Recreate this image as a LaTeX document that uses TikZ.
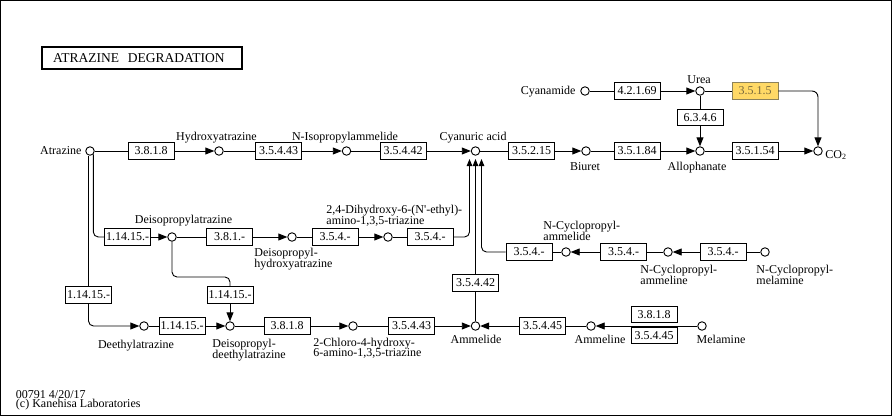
\documentclass[tikz,border=0pt]{standalone}
\usepackage{fontspec}
\setmainfont{Liberation Serif}
\usetikzlibrary{arrows.meta}
\definecolor{hlfill}{RGB}{255,217,102}
\definecolor{hlline}{RGB}{140,130,90}
\definecolor{hltext}{RGB}{120,105,60}
\newcommand{\keggsize}{\fontsize{12}{10.5}\selectfont}

\begin{document}
\begin{tikzpicture}[x=1pt, y=-1pt, line width=0.9pt,
  cpd/.style={circle, draw, fill=white, inner sep=0pt, minimum size=8.5pt},
  enz/.style={draw, fill=white, inner sep=0pt, minimum width=46pt, minimum height=16.5pt, font=\keggsize},
  hl/.style={enz, fill=hlfill, draw=hlline, text=hltext},
  lbl/.style={inner sep=0pt, font=\keggsize, align=left},
  rx/.style={-{Triangle[length=9pt,width=7pt]}},
  rxs/.style={-{Triangle[length=7pt,width=5.5pt]}}]

\useasboundingbox (0,0) rectangle (892,416);
\draw (0.5,0.5) rectangle (891.5,415.5);

\node [draw, line width=2pt, anchor=west, minimum height=22pt, inner xsep=11pt, inner ysep=0pt, text width=178pt, font=\fontsize{13.5}{14}\selectfont] (title) at (41,58) {ATRAZINE\ \ DEGRADATION};

% compounds
\node [cpd] (atr)   at (90,151) {};
\node [cpd] (hyd)   at (219,151) {};
\node [cpd] (nip)   at (346.5,151) {};
\node [cpd] (cya)   at (475.5,151) {};
\node [cpd] (biu)   at (586,151) {};
\node [cpd] (allo)  at (700,151) {};
\node [cpd] (co2)   at (818,151) {};
\node [cpd] (cyn)   at (585,91) {};
\node [cpd] (urea)  at (700,91) {};
\node [cpd] (dia)   at (172,237) {};
\node [cpd] (dha)   at (292,237) {};
\node [cpd] (dhe)   at (388,237) {};
\node [cpd] (ncamd) at (566,252) {};
\node [cpd] (ncaml) at (668,252) {};
\node [cpd] (ncmel) at (765,252) {};
\node [cpd] (deth)  at (144,326) {};
\node [cpd] (dde)   at (230,326) {};
\node [cpd] (chl)   at (353,326) {};
\node [cpd] (amd)   at (475.5,326) {};
\node [cpd] (aml)   at (591,326) {};
\node [cpd] (mel)   at (702,326) {};

% enzymes
\node [enz] (e3818a)  at (151,151) {3.8.1.8};
\node [enz] (e35443a) at (278.5,151) {3.5.4.43};
\node [enz] (e35442a) at (403,151) {3.5.4.42};
\node [enz] (e35215)  at (531.5,151) {3.5.2.15};
\node [enz] (e35184)  at (637,151) {3.5.1.84};
\node [enz] (e35154)  at (755,151) {3.5.1.54};
\node [enz] (e42169)  at (637,91) {4.2.1.69};
\node [hl]  (e3515)   at (755,91) {3.5.1.5};
\node [enz] (e6346)   at (700,117.5) {6.3.4.6};
\node [enz] (e11415a) at (127.5,237) {1.14.15.-};
\node [enz] (e381)    at (229.5,237) {3.8.1.-};
\node [enz] (e354a)   at (335,237) {3.5.4.-};
\node [enz] (e354b)   at (430,237) {3.5.4.-};
\node [enz] (e354c)   at (529,252) {3.5.4.-};
\node [enz] (e354d)   at (623.5,252) {3.5.4.-};
\node [enz] (e354e)   at (723,252) {3.5.4.-};
\node [enz] (e35442b) at (475.5,283) {3.5.4.42};
\node [enz] (e11415b) at (88.5,295) {1.14.15.-};
\node [enz] (e11415d) at (230,295) {1.14.15.-};
\node [enz] (e11415c) at (182,326) {1.14.15.-};
\node [enz] (e3818b)  at (287,326) {3.8.1.8};
\node [enz] (e35443b) at (411.5,326) {3.5.4.43};
\node [enz] (e35445a) at (542.5,326) {3.5.4.45};
\node [enz] (e3818c)  at (654,314.5) {3.8.1.8};
\node [enz] (e35445b) at (654,335.5) {3.5.4.45};

% labels
\node [lbl, anchor=base east] (latr)  at (82,154) {Atrazine};
\node [lbl, anchor=base] (lhyd)  at (216.5,140) {Hydroxyatrazine};
\node [lbl, anchor=base] (lnip)  at (345,140) {N-Isopropylammelide};
\node [lbl, anchor=base] (lcya)  at (473,140) {Cyanuric acid};
\node [lbl, anchor=base] (lbiu)  at (585,170) {Biuret};
\node [lbl, anchor=base] (lallo) at (697,170) {Allophanate};
\node [lbl, anchor=base west] (lco2) at (825,158) {CO\textsubscript{2}};
\node [lbl, anchor=base] (lurea) at (699,83) {Urea};
\node [lbl, anchor=base east] (lcyn) at (576,94) {Cyanamide};
\node [lbl, anchor=base] (ldia)  at (183.5,223) {Deisopropylatrazine};
\node [lbl, anchor=base west] (ldha) at (254,267) {Deisopropyl-\\[-1.5pt]hydroxyatrazine};
\node [lbl, anchor=base west] (ldhe) at (326,224) {2,4-Dihydroxy-6-(N\textquotesingle-ethyl)-\\[-1.5pt]amino-1,3,5-triazine};
\node [lbl, anchor=base west] (lncamd) at (543,240) {N-Cyclopropyl-\\[-1.5pt]ammelide};
\node [lbl, anchor=base west] (lncaml) at (640,284) {N-Cyclopropyl-\\[-1.5pt]ammeline};
\node [lbl, anchor=base west] (lncmel) at (756,284) {N-Cyclopropyl-\\[-1.5pt]melamine};
\node [lbl, anchor=base] (ldeth) at (136,348) {Deethylatrazine};
\node [lbl, anchor=base west] (ldde) at (212,358.3) {Deisopropyl-\\[-1.5pt]deethylatrazine};
\node [lbl, anchor=base west] (lchl) at (313,356.7) {2-Chloro-4-hydroxy-\\[-1.5pt]6-amino-1,3,5-triazine};
\node [lbl, anchor=base] (lamd) at (476,343.3) {Ammelide};
\node [lbl, anchor=base] (laml) at (600,343.3) {Ammeline};
\node [lbl, anchor=base] (lmel) at (721,343.3) {Melamine};
\node [lbl, anchor=base west] (foot) at (15.5,407.5) {00791 4/20/17\\[-1pt](c) Kanehisa Laboratories};

\coordinate (cyaL) at (469.5,159);
\coordinate (cyaM) at (475.5,159);
\coordinate (cyaR) at (481.5,159);
\coordinate (diaturn) at (230,277);

% plain links
\draw (atr) -- (e3818a);
\draw (hyd) -- (e35443a);
\draw (nip) -- (e35442a);
\draw (cya) -- (e35215);
\draw (biu) -- (e35184);
\draw (allo) -- (e35154);
\draw (cyn) -- (e42169);
\draw (urea) -- (e3515);
\draw (urea) -- (e6346);
\draw (dia) -- (e381);
\draw (dha) -- (e354a);
\draw (dhe) -- (e354b);
\draw (ncamd) -- (e354c);
\draw (ncaml) -- (e354d);
\draw (ncmel) -- (e354e);
\draw (atr.south -| e11415b) -- (e11415b);
\draw (deth) -- (e11415c);
\draw (dde) -- (e3818b);
\draw (chl) -- (e35443b);
\draw (aml) -- (e35445a);
\draw (amd) -- (e35442b);
\draw [rounded corners=5pt] (atr.-45) |- (e11415a); %atr-dia
\draw [rounded corners=5pt] (dia) |- (diaturn) -- (e11415d); %dia-dde

% reaction arrows
\begin{scope}[rx]
\draw (e3818a) -- (hyd);
\draw (e35443a) -- (nip);
\draw (e35442a) -- (cya);
\draw (e35215) -- (biu);
\draw (e35184) -- (allo);
\draw (e35154) -- (co2);
\draw (e42169) -- (urea);
\draw (e6346) -- (allo);
\draw [rounded corners=6pt] (e3515) -| (co2); %urea-co2
\draw (e11415a) -- (dia);
\draw (e381) -- (dha);
\draw (e354a) -- (dhe);
\draw (e354d) -- (ncamd);
\draw (e354e) -- (ncaml);
\draw [rounded corners=5pt] (e11415b) |- (deth); %atr-deth
\draw (e11415c) -- (dde);
\draw (e11415d) -- (dde);
\draw (e3818b) -- (chl);
\draw (e35443b) -- (amd);
\draw (e35445a) -- (amd);
\draw (mel) -- (aml);
\end{scope}

\begin{scope}[rxs]
\draw [rounded corners=5pt] (e354b) -| (cyaL); %dhe-cya
\draw (e35442b) -- (cyaM); %amd-cya
\draw [rounded corners=5pt] (e354c) -| (cyaR); %ncamd-cya
\end{scope}

\end{tikzpicture}
\end{document}
